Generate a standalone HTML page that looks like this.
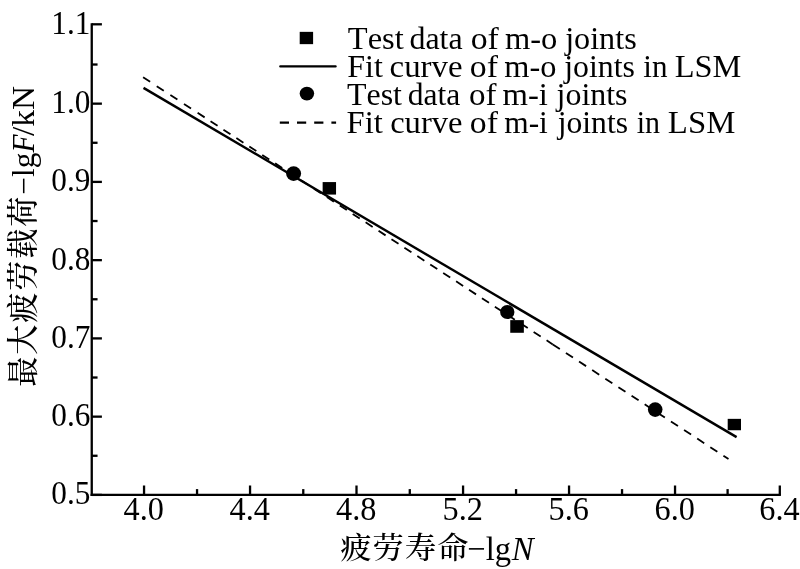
<!DOCTYPE html>
<html lang="zh"><head><meta charset="utf-8"><title>chart</title>
<style>
html,body{margin:0;padding:0;background:#fff;}
body{width:800px;height:569px;overflow:hidden;}
svg{display:block;}
text{font-family:"Liberation Serif","Noto Serif CJK SC",serif;fill:#000;}
.cj{font-family:"Noto Serif CJK SC","Liberation Serif",serif;font-weight:500;}
</style></head><body>
<svg width="800" height="569" viewBox="0 0 800 569">
<rect width="800" height="569" fill="#fff"/>
<g stroke="#000" stroke-width="2.3" fill="none" stroke-linecap="butt">
<path d="M91.75 23.15 V496.05"/>
<path d="M90.60 494.9 H780.90"/>
<path d="M91.75 494.90 h10.15"/>
<path d="M91.75 455.77 h5.8"/>
<path d="M91.75 416.65 h10.15"/>
<path d="M91.75 377.52 h5.8"/>
<path d="M91.75 338.40 h10.15"/>
<path d="M91.75 299.27 h5.8"/>
<path d="M91.75 260.15 h10.15"/>
<path d="M91.75 221.02 h5.8"/>
<path d="M91.75 181.90 h10.15"/>
<path d="M91.75 142.78 h5.8"/>
<path d="M91.75 103.65 h10.15"/>
<path d="M91.75 64.52 h5.8"/>
<path d="M91.75 24.30 h10.15"/>
<path d="M144.05 494.9 v-9.4"/>
<path d="M197.05 494.9 v-5.8"/>
<path d="M250.05 494.9 v-9.4"/>
<path d="M303.27 494.9 v-5.8"/>
<path d="M356.50 494.9 v-9.4"/>
<path d="M409.78 494.9 v-5.8"/>
<path d="M463.07 494.9 v-9.4"/>
<path d="M516.06 494.9 v-5.8"/>
<path d="M569.05 494.9 v-9.4"/>
<path d="M622.04 494.9 v-5.8"/>
<path d="M675.04 494.9 v-9.4"/>
<path d="M727.60 494.9 v-5.8"/>
<path d="M779.80 494.9 v-9.4"/>
</g>
<g font-size="34">
<text transform="translate(90.4 504.00) scale(0.92 1)" text-anchor="end">0.5</text>
<text transform="translate(90.4 426.00) scale(0.92 1)" text-anchor="end">0.6</text>
<text transform="translate(90.4 348.00) scale(0.92 1)" text-anchor="end">0.7</text>
<text transform="translate(90.4 270.00) scale(0.92 1)" text-anchor="end">0.8</text>
<text transform="translate(90.4 191.00) scale(0.92 1)" text-anchor="end">0.9</text>
<text transform="translate(90.4 113.00) scale(0.92 1)" text-anchor="end">1.0</text>
<text transform="translate(90.4 34.40) scale(0.92 1)" text-anchor="end">1.1</text>
<text transform="translate(143.75 520.4) scale(0.95 1)" text-anchor="middle">4.0</text>
<text transform="translate(249.75 520.4) scale(0.95 1)" text-anchor="middle">4.4</text>
<text transform="translate(356.20 520.4) scale(0.95 1)" text-anchor="middle">4.8</text>
<text transform="translate(462.77 520.4) scale(0.95 1)" text-anchor="middle">5.2</text>
<text transform="translate(568.75 520.4) scale(0.95 1)" text-anchor="middle">5.6</text>
<text transform="translate(674.74 520.4) scale(0.95 1)" text-anchor="middle">6.0</text>
<text transform="translate(779.50 520.4) scale(0.95 1)" text-anchor="middle">6.4</text>
</g>
<g stroke="#000" fill="none">
<path d="M143.5 87.9 L736.6 437.1" stroke-width="2.4"/>
<path d="M143.1 77.25 L197.6 112.79" stroke-width="1.8" stroke-dasharray="8.4 7.87"/>
<path d="M197.6 112.79 L552.8 344.42" stroke-width="1.8" stroke-dasharray="8.4 7.03"/>
<path d="M552.8 344.42 L728.5 459" stroke-width="1.8" stroke-dasharray="8.4 7.27"/>
<path d="M280.3 66.4 H335.6" stroke-width="2.3" stroke-linecap="round"/>
<path d="M279.8 122.6 H336.1" stroke-width="2.1" stroke-dasharray="9.2 8"/>
</g>
<g fill="#000">
<rect x="322.64" y="182.08" width="13.4" height="12.5"/>
<rect x="510.25" y="320.13" width="13.6" height="12.65"/>
<rect x="727.70" y="418.85" width="13.3" height="11.4"/>
<ellipse cx="293.6" cy="173.6" rx="7.5" ry="7.3"/>
<ellipse cx="507.3" cy="312.0" rx="7.15" ry="7.1"/>
<ellipse cx="655.2" cy="409.6" rx="7.3" ry="7.3"/>
<rect x="299.70" y="31.85" width="13.4" height="12.3"/>
<ellipse cx="306.9" cy="93.6" rx="7.25" ry="6.8"/>
</g>
<g font-size="32.4" style="font-kerning:none">
<text><tspan x="347.86" y="49.2" textLength="55.93" lengthAdjust="spacingAndGlyphs">Test</tspan> <tspan x="409.45" y="49.2" textLength="53.19" lengthAdjust="spacingAndGlyphs">data</tspan> <tspan x="470.72" y="49.2" textLength="28.08" lengthAdjust="spacingAndGlyphs">of</tspan> <tspan x="504.92" y="49.2" textLength="52.32" lengthAdjust="spacingAndGlyphs">m-o</tspan> <tspan x="565.13" y="49.2" textLength="71.54" lengthAdjust="spacingAndGlyphs">joints</tspan></text>
<text><tspan x="347.18" y="77.2" textLength="35.61" lengthAdjust="spacingAndGlyphs">Fit</tspan> <tspan x="389.60" y="77.2" textLength="72.94" lengthAdjust="spacingAndGlyphs">curve</tspan> <tspan x="469.82" y="77.2" textLength="28.08" lengthAdjust="spacingAndGlyphs">of</tspan> <tspan x="504.22" y="77.2" textLength="52.11" lengthAdjust="spacingAndGlyphs">m-o</tspan> <tspan x="564.22" y="77.2" textLength="70.68" lengthAdjust="spacingAndGlyphs">joints</tspan> <tspan x="643.25" y="77.2" textLength="24.23" lengthAdjust="spacingAndGlyphs">in</tspan> <tspan x="674.82" y="77.2" textLength="66.63" lengthAdjust="spacingAndGlyphs">LSM</tspan></text>
<text><tspan x="347.02" y="105.0" textLength="54.96" lengthAdjust="spacingAndGlyphs">Test</tspan> <tspan x="407.76" y="105.0" textLength="52.57" lengthAdjust="spacingAndGlyphs">data</tspan> <tspan x="468.99" y="105.0" textLength="27.51" lengthAdjust="spacingAndGlyphs">of</tspan> <tspan x="502.46" y="105.0" textLength="45.41" lengthAdjust="spacingAndGlyphs">m-i</tspan> <tspan x="556.62" y="105.0" textLength="70.93" lengthAdjust="spacingAndGlyphs">joints</tspan></text>
<text><tspan x="346.61" y="132.5" textLength="36.18" lengthAdjust="spacingAndGlyphs">Fit</tspan> <tspan x="390.16" y="132.5" textLength="72.37" lengthAdjust="spacingAndGlyphs">curve</tspan> <tspan x="469.82" y="132.5" textLength="28.08" lengthAdjust="spacingAndGlyphs">of</tspan> <tspan x="504.24" y="132.5" textLength="43.61" lengthAdjust="spacingAndGlyphs">m-i</tspan> <tspan x="557.71" y="132.5" textLength="70.33" lengthAdjust="spacingAndGlyphs">joints</tspan> <tspan x="636.77" y="132.5" textLength="23.28" lengthAdjust="spacingAndGlyphs">in</tspan> <tspan x="667.85" y="132.5" textLength="67.46" lengthAdjust="spacingAndGlyphs">LSM</tspan></text>
</g>
<text id="xl" style="font-kerning:none"><tspan class="cj" font-size="29.8" y="558.3"><tspan x="340.15" textLength="31.29" lengthAdjust="spacingAndGlyphs">疲</tspan><tspan x="372.55" textLength="31.29" lengthAdjust="spacingAndGlyphs">劳</tspan><tspan x="404.95" textLength="31.29" lengthAdjust="spacingAndGlyphs">寿</tspan><tspan x="437.35" textLength="31.29" lengthAdjust="spacingAndGlyphs">命</tspan></tspan><tspan font-size="33.2" y="559.9"><tspan x="467.28" textLength="43.74" lengthAdjust="spacingAndGlyphs">−lg</tspan><tspan x="511.74" textLength="21.84" lengthAdjust="spacingAndGlyphs" font-style="italic">N</tspan></tspan></text>
<text id="yl" transform="translate(33.5 400.0) rotate(-90) scale(1 0.94)" style="font-kerning:none"><tspan class="cj" font-size="33.4" y="0.21"><tspan x="13.35" textLength="30.0" lengthAdjust="spacingAndGlyphs">最</tspan><tspan x="45.35" textLength="30.0" lengthAdjust="spacingAndGlyphs">大</tspan><tspan x="77.35" textLength="30.0" lengthAdjust="spacingAndGlyphs">疲</tspan><tspan x="109.35" textLength="30.0" lengthAdjust="spacingAndGlyphs">劳</tspan><tspan x="141.35" textLength="30.0" lengthAdjust="spacingAndGlyphs">载</tspan><tspan x="173.35" textLength="30.0" lengthAdjust="spacingAndGlyphs">荷</tspan></tspan><tspan font-size="33.0" y="0"><tspan x="205.34" textLength="41.95" lengthAdjust="spacingAndGlyphs">−lg</tspan><tspan x="247.56" textLength="18.00" lengthAdjust="spacingAndGlyphs" font-style="italic">F</tspan><tspan x="264.00" textLength="49.96" lengthAdjust="spacingAndGlyphs">/kN</tspan></tspan></text>
</svg>
</body></html>
